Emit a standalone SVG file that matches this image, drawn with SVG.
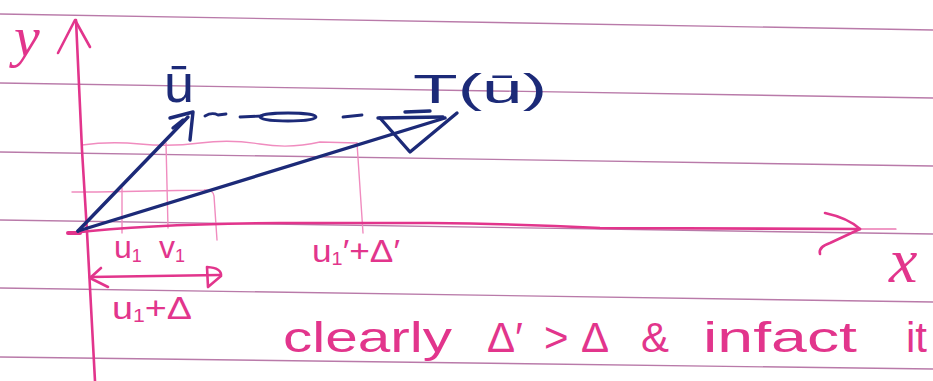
<svg xmlns="http://www.w3.org/2000/svg" width="933" height="381" viewBox="0 0 933 381">
<style>
.rule{stroke:#b97aa9;stroke-width:1.4;fill:none}
.pink{stroke:#e2358c;stroke-width:2.6;fill:none;stroke-linecap:round;stroke-linejoin:round}
.proj{stroke:#f08cbf;stroke-width:1.4;fill:none;stroke-linecap:round}
.blue{stroke:#1c2a78;stroke-width:3.4;fill:none;stroke-linecap:round;stroke-linejoin:round}
.pt{fill:#e2358c;font-family:"Liberation Sans","DejaVu Sans",sans-serif}
.bt{fill:#1c2a78;font-family:"Liberation Sans","DejaVu Sans",sans-serif}
.it{font-family:"Liberation Serif","DejaVu Serif",serif;font-style:italic}
</style>
<rect width="933" height="381" fill="#ffffff"/>
<g id="paper">
<line class="rule" x1="0" y1="14" x2="933" y2="30"/>
<line class="rule" x1="0" y1="83" x2="933" y2="98"/>
<line class="rule" x1="0" y1="152" x2="933" y2="166"/>
<line class="rule" x1="0" y1="220" x2="933" y2="234"/>
<line class="rule" x1="0" y1="288" x2="933" y2="302"/>
<line class="rule" x1="0" y1="357" x2="933" y2="369"/>
</g>
<g id="projections">
<path class="proj" d="M82,145 Q110,141 140,144 T200,143 T260,144 T320,142 L357,143"/>
<path class="proj" d="M357,143 L363,233"/>
<path class="proj" d="M72,192 L97,192 M97,192 L204,190 Q213,189 214,196 L217,240"/>
<path class="proj" d="M122,188 L122,233"/>
<path class="proj" d="M166,143 L168,228"/>
</g>
<g id="axes">
<path class="pink" d="M76,20 L82,150 L87,232 L95,381"/>
<path class="pink" d="M58,53 L75,20 L90,47"/>
<path class="pink" d="M72,233 Q150,224 280,223 L430,223 Q520,224 600,228 L860,229"/>
<path class="pink" style="stroke-width:1.2" d="M860,229 L896,229"/>
<path class="pink" d="M825,213 Q848,218 860,229 M820,254 Q818,247 830,243 L860,229"/>
<path class="pink" style="stroke-width:4" d="M68,233 L80,233"/>
<text class="pt it" x="14" y="56" font-size="58">y</text>
<text class="pt it" x="889" y="282" font-size="64">x</text>
</g>
<g id="vectors">
<path class="blue" d="M78,231 L188,117"/>
<path class="blue" d="M170,118 L193,112 L190,140 M173,128 L183,120"/>
<path class="blue" d="M78,231 L445,118"/>
<path class="blue" d="M380,118 L410,152 L457,113"/>
<path class="blue" d="M378,118 L443,117 M405,112 L430,111"/>
<path class="blue" style="stroke-width:2.8" d="M205,116 Q212,112 218,115 L226,114 M240,117 L262,116 M343,117 L362,115"/>
<ellipse class="blue" style="stroke-width:2.8" cx="288" cy="117" rx="28" ry="4"/>
<text class="bt" x="164" y="102" font-size="54">ū</text>
<text class="bt" x="413" y="103" font-size="40" textLength="134" lengthAdjust="spacingAndGlyphs">T(ū)</text>
</g>
<g id="interval">
<path class="pink" d="M90,277 L220,275"/>
<path class="pink" d="M101,268 L90,278 L108,287"/>
<path class="pink" d="M207,267 Q222,268 221,276 L208,287 Z"/>
</g>
<g id="labels">
<text class="pt" x="114" y="258" font-size="32">u<tspan font-size="18" dy="4">1</tspan></text>
<text class="pt" x="159" y="258" font-size="32">v<tspan font-size="18" dy="4">1</tspan></text>
<text class="pt" x="312" y="262" font-size="32" textLength="88" lengthAdjust="spacingAndGlyphs">u<tspan font-size="18" dy="3">1</tspan><tspan dy="-3">′+Δ′</tspan></text>
<text class="pt" x="112" y="319" font-size="32" textLength="80" lengthAdjust="spacingAndGlyphs">u<tspan font-size="18" dy="3">1</tspan><tspan dy="-3">+Δ</tspan></text>
<text class="pt" y="352" font-size="42"><tspan x="283" textLength="169" lengthAdjust="spacingAndGlyphs">clearly</tspan> <tspan x="487">Δ′</tspan> <tspan x="544">&gt;</tspan> <tspan x="581">Δ</tspan> <tspan x="641">&amp;</tspan> <tspan x="703" textLength="154" lengthAdjust="spacingAndGlyphs">infact</tspan> <tspan x="906">it</tspan></text>
</g>
</svg>
